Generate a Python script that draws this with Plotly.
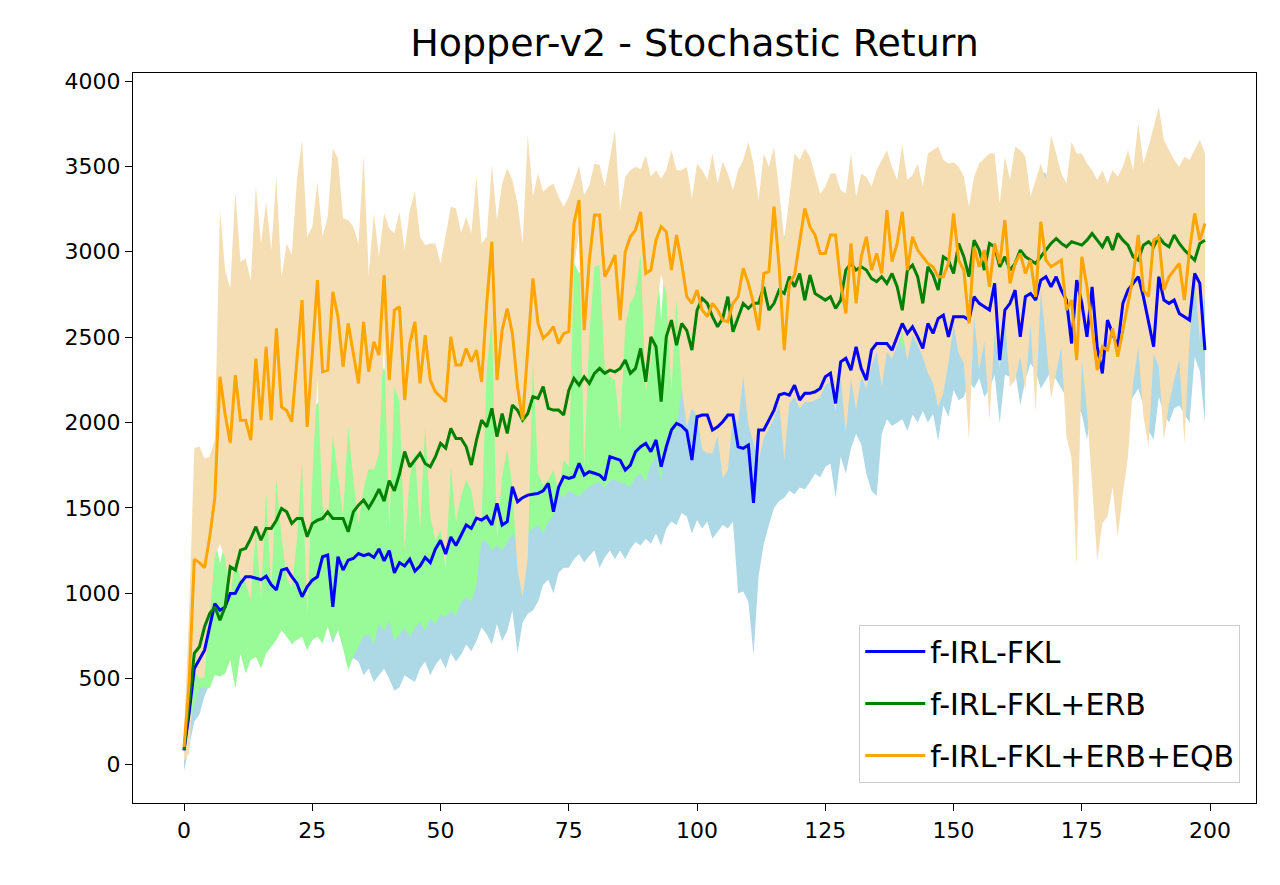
import plotly.graph_objects as go

steps = list(range(200))

blue_mean = [
    80, 300, 560, 618, 667, 804, 940, 901, 920, 999,
    1000, 1058, 1097, 1097, 1090, 1080, 1100, 1050, 1020, 1136,
    1145, 1097, 1058, 980, 1038, 1077, 1097, 1214, 1224, 921,
    1214, 1136, 1194, 1204, 1233, 1220, 1230, 1210, 1260, 1190,
    1250, 1120, 1180, 1160, 1200, 1130, 1160, 1210, 1180, 1260,
    1310, 1230, 1330, 1280, 1340, 1400, 1380, 1440, 1429, 1450,
    1400, 1527, 1400, 1420, 1624, 1536, 1560, 1575, 1580, 1585,
    1600, 1644, 1478, 1620, 1683, 1673, 1683, 1761, 1693, 1712,
    1703, 1693, 1663, 1800, 1790, 1780, 1722, 1751, 1829, 1858,
    1878, 1829, 1898, 1741, 1858, 1956, 1995, 1980, 1950, 1780,
    2034, 2044, 2044, 1956, 1975, 2005, 2044, 2044, 1858, 1849,
    1868, 1530, 1956, 1956, 2014, 2073, 2161, 2171, 2161, 2219,
    2132, 2171, 2171, 2180, 2200, 2268, 2288, 2112, 2356, 2376,
    2307, 2444, 2317, 2249, 2424, 2463, 2463, 2463, 2424, 2502,
    2580, 2522, 2561, 2502, 2434, 2580, 2522, 2610, 2629, 2502,
    2620, 2620, 2620, 2600, 2737, 2698, 2678, 2659, 2815, 2366,
    2659, 2698, 2776, 2502, 2737, 2756, 2717, 2834, 2854, 2795,
    2854, 2776, 2717, 2463, 2834, 2698, 2502, 2795, 2444, 2288,
    2600, 2522, 2444, 2698, 2776, 2815, 2854, 2737, 2580, 2444,
    2854, 2717, 2698, 2717, 2639, 2620, 2600, 2873, 2815, 2424,
]
blue_std = [
    120, 200, 310, 328, 267, 334, 360, 260, 360, 359,
    480, 378, 497, 447, 430, 480, 420, 350, 280, 336,
    365, 400, 318, 220, 338, 337, 337, 484, 414, 215,
    424, 436, 594, 584, 633, 700, 670, 730, 740, 630,
    750, 690, 730, 640, 700, 650, 600, 610, 660, 680,
    690, 670, 680, 680, 700, 700, 720, 720, 629, 690,
    700, 707, 680, 640, 724, 886, 730, 695, 680, 635,
    550, 564, 478, 500, 533, 523, 483, 531, 513, 492,
    453, 543, 453, 550, 590, 530, 522, 491, 529, 578,
    558, 539, 548, 461, 478, 536, 595, 510, 500, 430,
    604, 664, 624, 636, 615, 605, 664, 624, 858, 839,
    918, 890, 856, 666, 614, 573, 621, 611, 561, 639,
    512, 561, 521, 480, 520, 528, 528, 552, 556, 676,
    457, 509, 445, 549, 824, 893, 528, 443, 444, 502,
    560, 572, 516, 502, 367, 580, 472, 716, 529, 468,
    430, 490, 470, 359, 537, 438, 528, 459, 535, 371,
    379, 430, 476, 400, 487, 410, 417, 634, 604, 495,
    604, 576, 567, 513, 734, 648, 602, 695, 494, 488,
    600, 572, 544, 648, 676, 665, 654, 637, 630, 544,
    704, 667, 698, 634, 539, 570, 600, 488, 515, 429,
]

green_mean = [
    82, 350, 648, 687, 804, 882, 921, 843, 921, 1155,
    1136, 1253, 1263, 1321, 1390, 1311, 1380, 1380, 1428, 1497,
    1477, 1409, 1438, 1438, 1331, 1409, 1428, 1438, 1477, 1438,
    1438, 1438, 1360, 1477, 1516, 1546, 1500, 1550, 1610, 1540,
    1660, 1600, 1700, 1830, 1741, 1780, 1820, 1760, 1741, 1800,
    1878, 1850, 1966, 1907, 1907, 1858, 1751, 1897, 2014, 1975,
    2083, 1917, 2053, 1936, 2102, 2073, 2014, 2053, 2151, 2141,
    2210, 2083, 2073, 2073, 2044, 2190, 2258, 2219, 2268, 2229,
    2288, 2317, 2288, 2307, 2297, 2317, 2366, 2288, 2317, 2434,
    2239, 2502, 2444, 2122, 2502, 2600, 2453, 2580, 2540, 2424,
    2658, 2727, 2698, 2620, 2561, 2610, 2737, 2532, 2619, 2698,
    2668, 2698, 2698, 2795, 2658, 2698, 2776, 2756, 2854, 2795,
    2873, 2717, 2864, 2756, 2737, 2717, 2737, 2668, 2717, 2893,
    2932, 2893, 2912, 2893, 2844, 2825, 2854, 2815, 2873, 2795,
    2658, 2893, 2922, 2854, 2698, 2912, 2864, 2776, 2971, 2950,
    2873, 3049, 2971, 2854, 3068, 3010, 2893, 3049, 3029, 2912,
    2971, 2893, 2932, 3010, 2971, 2951, 2932, 2971, 3010, 3049,
    3078, 3049, 3029, 3059, 3049, 3039, 3068, 3107, 3068, 3029,
    3088, 3010, 3107, 3068, 3039, 2971, 2951, 3039, 3059, 3029,
    3088, 3049, 3029, 3098, 3049, 3010, 2980, 2951, 3049, 3068,
]
green_std = [
    70, 150, 300, 244, 354, 439, 400, 330, 391, 546,
    693, 605, 733, 712, 762, 751, 732, 693, 702, 713,
    732, 703, 712, 693, 664, 683, 683, 732, 673, 712,
    654, 761, 810, 849, 829, 796, 740, 850, 790, 760,
    820, 880, 940, 1030, 1000, 980, 990, 980, 890, 980,
    1000, 990, 1070, 1040, 960, 880, 800, 850, 702, 675,
    833, 637, 803, 636, 752, 773, 684, 703, 771, 741,
    860, 663, 623, 488, 484, 590, 678, 654, 668, 609,
    648, 667, 668, 647, 634, 667, 726, 664, 637, 734,
    589, 752, 644, 472, 605, 650, 503, 380, 290, 224,
    358, 300, 290, 320, 310, 280, 330, 300, 290, 310,
    300, 320, 300, 340, 330, 350, 340, 330, 360, 340,
    350, 330, 340, 320, 300, 310, 330, 290, 300, 310,
    280, 290, 270, 280, 260, 280, 270, 250, 260, 250,
    240, 260, 250, 240, 230, 250, 240, 230, 220, 240,
    230, 210, 200, 220, 190, 210, 200, 220, 200, 210,
    200, 190, 210, 200, 220, 200, 190, 210, 200, 220,
    200, 210, 190, 200, 220, 210, 200, 190, 210, 200,
    220, 200, 210, 190, 200, 210, 220, 200, 190, 210,
    200, 210, 220, 200, 190, 210, 200, 220, 210, 200,
]

orange_mean = [
    100, 480, 1200, 1180, 1150, 1330, 1560, 2268, 2050, 1880,
    2278, 2014, 2014, 1897, 2375, 2014, 2444, 2014, 2551, 2092,
    2070, 2005, 2366, 2717, 1975, 2405, 2834, 2298, 2307, 2766,
    2620, 2327, 2581, 2405, 2229, 2590, 2297, 2473, 2395, 2864,
    2249, 2658, 2678, 2132, 2463, 2590, 2229, 2512, 2249, 2180,
    2151, 2122, 2502, 2337, 2337, 2434, 2356, 2424, 2239, 2698,
    3059, 2249, 2541, 2668, 2522, 2210, 2014, 2444, 2844, 2580,
    2493, 2522, 2561, 2463, 2522, 2532, 3166, 3303, 2541, 2950,
    3215, 3215, 2854, 2912, 2981, 2600, 3000, 3088, 3127, 3234,
    2873, 2893, 3069, 3147, 3117, 2893, 3098, 2932, 2737, 2698,
    2776, 2659, 2620, 2698, 2659, 2600, 2590, 2698, 2737, 2903,
    2815, 2698, 2541, 2873, 2883, 3264, 2912, 2424, 2815, 2864,
    3049, 3254, 3147, 3098, 2990, 2990, 3098, 3098, 2815, 2639,
    3049, 2698, 2971, 3088, 2893, 2990, 2873, 3244, 2942, 3049,
    3234, 2893, 3088, 3010, 2971, 2932, 2912, 2854, 2854, 2932,
    3225, 2951, 2893, 2580, 3029, 2912, 3010, 2795, 3049, 2932,
    3186, 2815, 2932, 2990, 2873, 2951, 2737, 3176, 2951, 2912,
    2932, 2951, 2659, 2717, 2366, 2971, 2795, 2561, 2307, 2444,
    2424, 2551, 2385, 2541, 2698, 2854, 3098, 2776, 2737, 3068,
    3088, 2776, 2854, 2893, 2932, 2717, 3010, 3225, 3068, 3166,
]
# spread above and below the orange mean (the band is not symmetric)
orange_spread_up = [
    80, 420, 650, 680, 640, 470, 340, 976, 843, 905,
    1073, 928, 947, 937, 1006, 1035, 849, 996, 888, 762,
    979, 976, 1054, 937, 1113, 742, 576, 790, 898, 839,
    927, 868, 605, 742, 820, 976, 567, 752, 576, 361,
    888, 450, 556, 878, 781, 761, 859, 527, 800, 869,
    781, 986, 762, 917, 771, 771, 752, 1015, 810, 390,
    449, 937, 859, 820, 898, 1073, 1035, 1239, 478, 879,
    859, 859, 839, 859, 742, 790, 250, 200, 791, 440,
    302, 293, 527, 644, 732, 644, 439, 390, 371, 250,
    693, 546, 409, 280, 361, 703, 380, 546, 761, 614,
    741, 819, 800, 878, 741, 927, 869, 663, 741, 634,
    829, 819, 762, 703, 615, 350, 449, 644, 507, 712,
    488, 350, 409, 350, 350, 391, 360, 361, 546, 703,
    527, 624, 488, 350, 488, 488, 664, 350, 556, 371,
    391, 527, 360, 507, 410, 644, 684, 761, 683, 585,
    300, 547, 546, 684, 410, 605, 537, 781, 527, 351,
    370, 605, 683, 606, 683, 371, 683, 341, 469, 771,
    644, 508, 741, 927, 1210, 605, 722, 917, 1113, 1034,
    976, 927, 1054, 957, 898, 624, 654, 741, 878, 664,
    761, 878, 742, 644, 566, 839, 527, 371, 586, 410,
]
orange_spread_down = [
    80, 420, 650, 680, 640, 470, 340, 976, 843, 905,
    1073, 928, 947, 937, 1006, 1035, 849, 996, 888, 762,
    979, 976, 1054, 937, 1113, 742, 576, 790, 898, 839,
    927, 868, 605, 742, 820, 976, 567, 752, 576, 361,
    888, 450, 556, 878, 781, 761, 859, 527, 800, 869,
    781, 986, 762, 917, 771, 771, 752, 1015, 810, 390,
    449, 937, 859, 820, 898, 1073, 1035, 1239, 478, 879,
    859, 859, 839, 859, 742, 790, 250, 200, 791, 440,
    302, 293, 527, 644, 732, 644, 439, 390, 371, 250,
    693, 546, 409, 280, 361, 703, 380, 730, 761, 614,
    741, 819, 800, 878, 741, 927, 869, 663, 741, 634,
    829, 819, 762, 967, 919, 1241, 801, 644, 704, 712,
    967, 1133, 1026, 968, 840, 772, 860, 1036, 546, 703,
    792, 624, 704, 889, 560, 577, 664, 831, 568, 597,
    704, 527, 577, 558, 587, 644, 684, 761, 683, 585,
    655, 547, 546, 684, 410, 605, 537, 781, 527, 616,
    577, 605, 683, 606, 683, 371, 683, 400, 469, 771,
    644, 508, 741, 927, 1210, 605, 722, 917, 1113, 1034,
    976, 927, 1054, 957, 898, 624, 654, 741, 878, 664,
    761, 878, 742, 644, 566, 839, 527, 371, 586, 410,
]

series = [
    ("f-IRL-FKL", blue_mean, blue_std, blue_std, "blue", "lightblue"),
    ("f-IRL-FKL+ERB", green_mean, green_std, green_std, "green", "palegreen"),
    ("f-IRL-FKL+ERB+EQB", orange_mean, orange_spread_up, orange_spread_down,
     "orange", "wheat"),
]

fig = go.Figure()

# shaded bands first, later bands drawn over earlier ones
for name, mean, up, down, line_color, band_color in series:
    upper = [m + s for m, s in zip(mean, up)]
    lower = [m - s for m, s in zip(mean, down)]
    fig.add_trace(go.Scatter(x=steps, y=upper, mode="lines", line=dict(width=0),
                             showlegend=False, hoverinfo="skip"))
    fig.add_trace(go.Scatter(x=steps, y=lower, mode="lines", line=dict(width=0),
                             fill="tonexty", fillcolor=band_color,
                             showlegend=False, hoverinfo="skip"))

# mean lines on top
for name, mean, up, down, line_color, band_color in series:
    fig.add_trace(go.Scatter(x=steps, y=mean, mode="lines", name=name,
                             legendgroup=name,
                             line=dict(color=line_color, width=3)))

axis_style = dict(showgrid=False, zeroline=False, showline=True, mirror=True,
                  linecolor="black", linewidth=1.3, ticks="outside", ticklen=7,
                  tickwidth=1.3, tickcolor="black",
                  tickfont=dict(family="DejaVu Sans", size=22, color="black"))

fig.update_xaxes(range=[-9.95, 208.95], tickvals=list(range(0, 201, 25)), **axis_style)
fig.update_yaxes(range=[-228, 4047], tickvals=list(range(0, 4001, 500)), **axis_style)

# page body adds 8px around the figure
fig.update_layout(
    width=1264, height=869,
    margin=dict(l=125, r=16, t=65, b=74),
    paper_bgcolor="white", plot_bgcolor="white",
    font=dict(family="DejaVu Sans", color="black"),
    title=dict(text="Hopper-v2 - Stochastic Return", x=0.5, xref="paper",
               y=1 - 35 / 869, yref="container", yanchor="middle",
               font=dict(family="DejaVu Sans", size=38, color="black")),
    legend=dict(x=0.986, y=0.028, xanchor="right", yanchor="bottom",
                bgcolor="rgba(255,255,255,0.85)", bordercolor="#CCCCCC",
                borderwidth=1, tracegroupgap=10, itemwidth=60,
                font=dict(family="DejaVu Sans", size=30, color="black")),
    showlegend=True,
)

fig.write_html("out.html")
